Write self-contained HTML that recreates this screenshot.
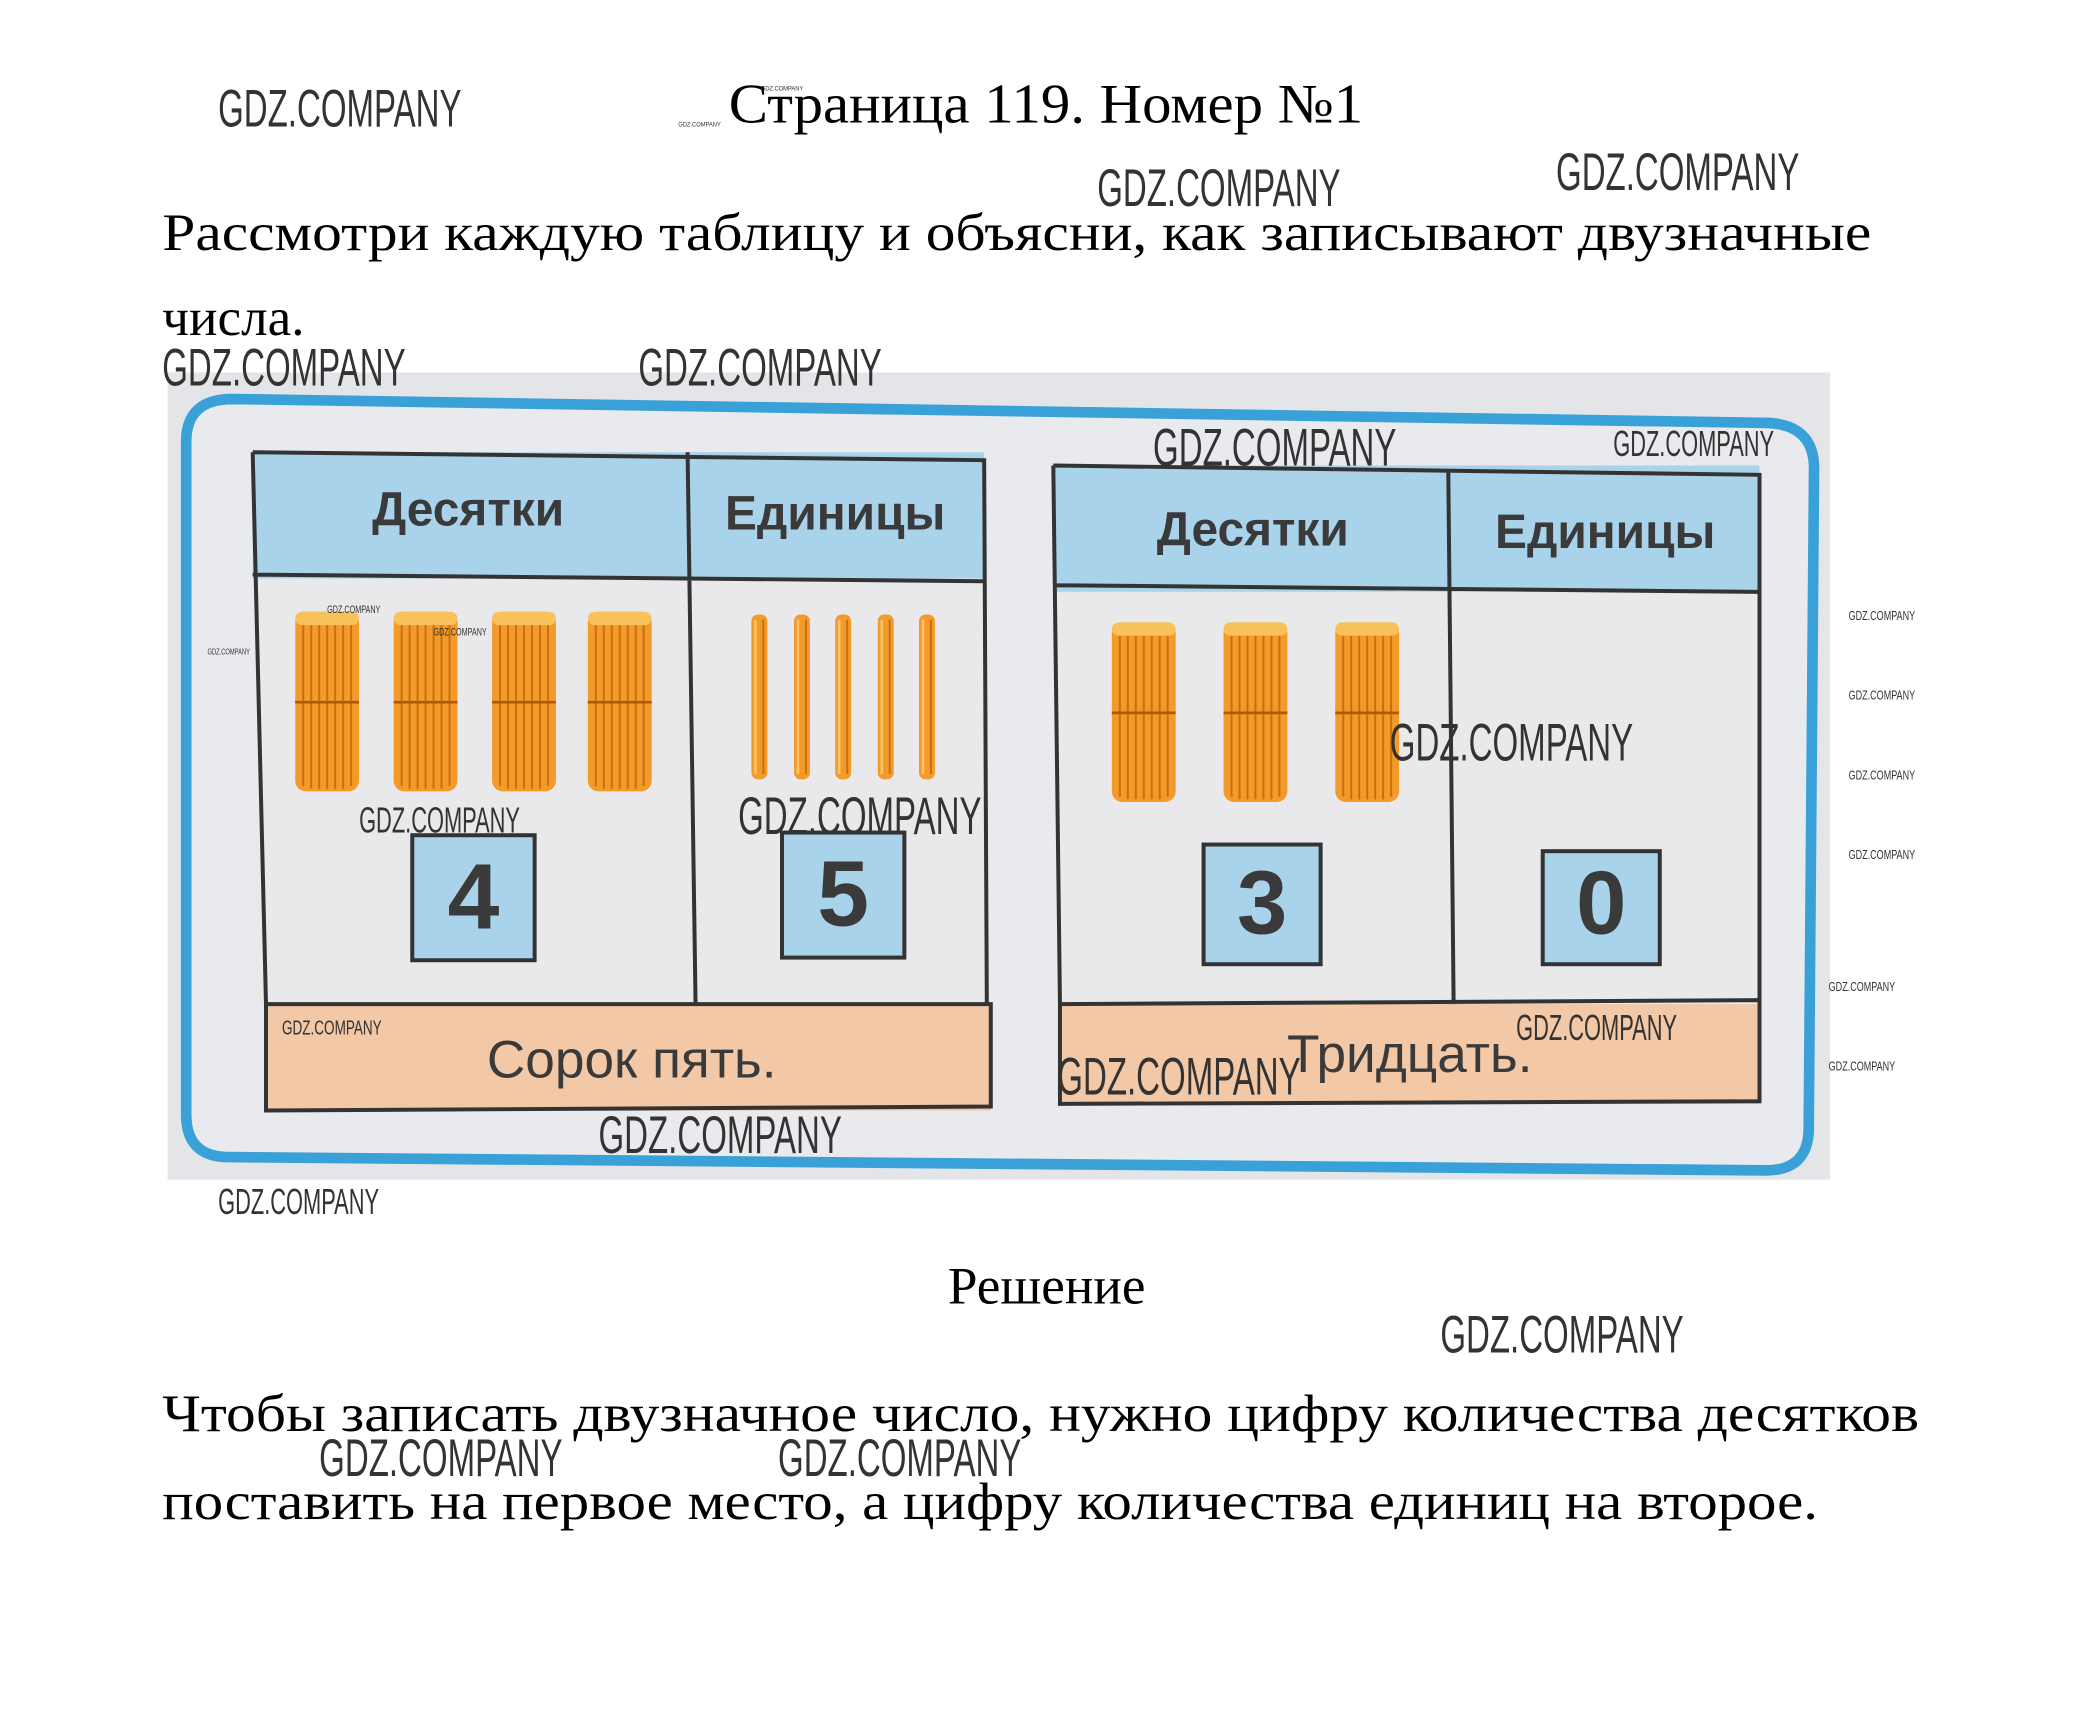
<!DOCTYPE html>
<html><head><meta charset="utf-8"><style>
html,body{margin:0;padding:0;background:#fff;}
svg{display:block}
.wm{font-family:"Liberation Sans Narrow","Liberation Sans",sans-serif;fill:#333;}
.s{font-family:"Liberation Serif",serif;fill:#000;}
.h{font-family:"Liberation Sans","DejaVu Sans",sans-serif;font-weight:bold;fill:#3a3a3a;}
</style></head><body>
<svg width="2088" height="1717" viewBox="0 0 1570 1291" xmlns="http://www.w3.org/2000/svg">
<defs>
<g id="bundle">
 <rect x="0" y="0" width="48" height="135" rx="8" fill="#f39a2a"/>
 <g stroke="#c96f0c" stroke-width="1.5">
  <line x1="6" y1="4" x2="6" y2="131"/><line x1="12" y1="2" x2="12" y2="133"/><line x1="18" y1="2" x2="18" y2="133"/>
  <line x1="24" y1="2" x2="24" y2="133"/><line x1="30" y1="2" x2="30" y2="133"/><line x1="36" y1="2" x2="36" y2="133"/><line x1="42" y1="4" x2="42" y2="131"/>
 </g>
 <rect x="0" y="0" width="48" height="10" rx="5" fill="#f7c25a"/>
 <line x1="0" y1="68" x2="48" y2="68" stroke="#a95a08" stroke-width="2"/>
</g>
<g id="stick"><rect x="0" y="0" width="12" height="124" rx="5" fill="#f39a2a"/><line x1="3" y1="4" x2="3" y2="120" stroke="#f9c36a" stroke-width="2"/><line x1="9" y1="4" x2="9" y2="120" stroke="#c96f0c" stroke-width="1.5"/></g>
</defs>
<rect width="1570" height="1291" fill="#fff"/>

<text class="s" x="548" y="92" font-size="42" textLength="477" lengthAdjust="spacingAndGlyphs">Страница 119. Номер №1</text>
<text class="s" x="122" y="188" font-size="40" textLength="1285" lengthAdjust="spacingAndGlyphs">Рассмотри каждую таблицу и объясни, как записывают двузначные</text>
<text class="s" x="122" y="252" font-size="40">числа.</text>

<rect x="126" y="280" width="1250" height="607" fill="#e4e5e8"/>
<path d="M175 300 L1330 318 Q1364 320 1364 352 L1360 848 Q1360 880 1328 880 L172 870 Q140 870 140 838 L140 332 Q140 300 175 300 Z" fill="#e9eaed" stroke="#3aa0d8" stroke-width="8"/>

<rect x="190" y="340" width="550" height="95" fill="#a9d3ea"/>
<rect x="190" y="435" width="552" height="320" fill="#e9e9ec"/>
<rect x="200" y="755" width="545" height="80" fill="#f2c8a6"/>
<g stroke="#333" stroke-width="3" fill="none">
 <path d="M190 340 L740 346 L742 755 M190 340 L200 755 M190 432 L740 437 M517 340 L523 755 M200 755 L745 755 L745 832 L200 835 Z"/>
</g>
<text class="h" x="352" y="395" font-size="36" text-anchor="middle">Десятки</text>
<text class="h" x="628" y="398" font-size="36" text-anchor="middle">Единицы</text>
<use href="#bundle" x="222" y="460"/><use href="#bundle" x="296" y="460"/><use href="#bundle" x="370" y="460"/><use href="#bundle" x="442" y="460"/>
<use href="#stick" x="565" y="462"/><use href="#stick" x="597" y="462"/><use href="#stick" x="628" y="462"/><use href="#stick" x="660" y="462"/><use href="#stick" x="691" y="462"/>
<rect x="310" y="628" width="92" height="94" fill="#a9d3ea" stroke="#333" stroke-width="3"/>
<text class="h" x="356" y="698" font-size="70" text-anchor="middle">4</text>
<rect x="588" y="626" width="92" height="94" fill="#a9d3ea" stroke="#333" stroke-width="3"/>
<text class="h" x="634" y="696" font-size="70" text-anchor="middle">5</text>
<text class="h" x="475" y="810" font-size="40" text-anchor="middle" style="font-weight:normal">Сорок  пять.</text>

<rect x="792" y="350" width="531" height="95" fill="#a9d3ea"/>
<rect x="792" y="445" width="531" height="310" fill="#e9e9ec"/>
<rect x="797" y="755" width="526" height="75" fill="#f2c8a6"/>
<g stroke="#333" stroke-width="3" fill="none">
 <path d="M792 350 L1323 357 L1323 752 M792 350 L797 755 M792 440 L1323 445 M1089 355 L1093 755 M797 755 L1323 752 L1323 828 L797 830 Z"/>
</g>
<text class="h" x="942" y="410" font-size="36" text-anchor="middle">Десятки</text>
<text class="h" x="1207" y="412" font-size="36" text-anchor="middle">Единицы</text>
<use href="#bundle" x="836" y="468"/><use href="#bundle" x="920" y="468"/><use href="#bundle" x="1004" y="468"/>
<rect x="905" y="635" width="88" height="90" fill="#a9d3ea" stroke="#333" stroke-width="3"/>
<text class="h" x="949" y="702" font-size="68" text-anchor="middle">3</text>
<rect x="1160" y="640" width="88" height="85" fill="#a9d3ea" stroke="#333" stroke-width="3"/>
<text class="h" x="1204" y="702" font-size="68" text-anchor="middle">0</text>
<text class="h" x="1060" y="806" font-size="40" text-anchor="middle" style="font-weight:normal">Тридцать.</text>

<text class="s" x="787" y="980" font-size="40" text-anchor="middle">Решение</text>
<text class="s" x="122" y="1076" font-size="40" textLength="1321" lengthAdjust="spacingAndGlyphs">Чтобы записать двузначное число, нужно цифру количества десятков</text>
<text class="s" x="122" y="1142" font-size="40" textLength="1245" lengthAdjust="spacingAndGlyphs">поставить на первое место, а цифру количества единиц на второе.</text>

<g class="wm">
<text x="164" y="95" font-size="40" textLength="183" lengthAdjust="spacingAndGlyphs">GDZ.COMPANY</text>
<text x="825" y="155" font-size="40" textLength="183" lengthAdjust="spacingAndGlyphs">GDZ.COMPANY</text>
<text x="1170" y="143" font-size="40" textLength="183" lengthAdjust="spacingAndGlyphs">GDZ.COMPANY</text>
<text x="122" y="290" font-size="40" textLength="183" lengthAdjust="spacingAndGlyphs">GDZ.COMPANY</text>
<text x="480" y="290" font-size="40" textLength="183" lengthAdjust="spacingAndGlyphs">GDZ.COMPANY</text>
<text x="867" y="350" font-size="40" textLength="183" lengthAdjust="spacingAndGlyphs">GDZ.COMPANY</text>
<text x="1213" y="343" font-size="27" textLength="121" lengthAdjust="spacingAndGlyphs">GDZ.COMPANY</text>
<text x="1045" y="572" font-size="40" textLength="183" lengthAdjust="spacingAndGlyphs">GDZ.COMPANY</text>
<text x="270" y="626" font-size="27" textLength="121" lengthAdjust="spacingAndGlyphs">GDZ.COMPANY</text>
<text x="555" y="627" font-size="40" textLength="183" lengthAdjust="spacingAndGlyphs">GDZ.COMPANY</text>
<text x="212" y="778" font-size="15" textLength="75" lengthAdjust="spacingAndGlyphs">GDZ.COMPANY</text>
<text x="1140" y="782" font-size="27" textLength="121" lengthAdjust="spacingAndGlyphs">GDZ.COMPANY</text>
<text x="795" y="823" font-size="40" textLength="183" lengthAdjust="spacingAndGlyphs">GDZ.COMPANY</text>
<text x="450" y="867" font-size="40" textLength="183" lengthAdjust="spacingAndGlyphs">GDZ.COMPANY</text>
<text x="164" y="913" font-size="27" textLength="121" lengthAdjust="spacingAndGlyphs">GDZ.COMPANY</text>
<text x="1083" y="1017" font-size="40" textLength="183" lengthAdjust="spacingAndGlyphs">GDZ.COMPANY</text>
<text x="240" y="1110" font-size="40" textLength="183" lengthAdjust="spacingAndGlyphs">GDZ.COMPANY</text>
<text x="585" y="1110" font-size="40" textLength="183" lengthAdjust="spacingAndGlyphs">GDZ.COMPANY</text>
<text x="1390" y="466" font-size="10" textLength="50" lengthAdjust="spacingAndGlyphs">GDZ.COMPANY</text>
<text x="1390" y="526" font-size="10" textLength="50" lengthAdjust="spacingAndGlyphs">GDZ.COMPANY</text>
<text x="1390" y="586" font-size="10" textLength="50" lengthAdjust="spacingAndGlyphs">GDZ.COMPANY</text>
<text x="1390" y="646" font-size="10" textLength="50" lengthAdjust="spacingAndGlyphs">GDZ.COMPANY</text>
<text x="1375" y="745" font-size="10" textLength="50" lengthAdjust="spacingAndGlyphs">GDZ.COMPANY</text>
<text x="1375" y="805" font-size="10" textLength="50" lengthAdjust="spacingAndGlyphs">GDZ.COMPANY</text>
<text x="246" y="461" font-size="8" textLength="40" lengthAdjust="spacingAndGlyphs">GDZ.COMPANY</text>
<text x="326" y="478" font-size="8" textLength="40" lengthAdjust="spacingAndGlyphs">GDZ.COMPANY</text>
<text x="156" y="492" font-size="6" textLength="32" lengthAdjust="spacingAndGlyphs">GDZ.COMPANY</text>
<text x="510" y="95" font-size="5" textLength="32" lengthAdjust="spacingAndGlyphs">GDZ.COMPANY</text>
<text x="572" y="68" font-size="5" textLength="32" lengthAdjust="spacingAndGlyphs">GDZ.COMPANY</text>
</g>
</svg>
</body></html>
